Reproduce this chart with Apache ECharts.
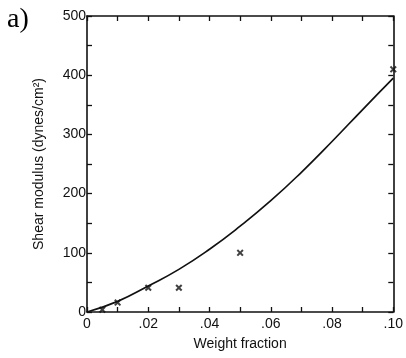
<!DOCTYPE html>
<html>
<head>
<meta charset="utf-8">
<script src="https://cdn.jsdelivr.net/npm/echarts@6/dist/echarts.min.js"></script>
<style>
  html, body { margin: 0; padding: 0; background: #fff; }
  #main { width: 406px; height: 358px; }
</style>
</head>
<body>
<div id="main"></div>
<script>
// measured points (x markers)
var pointX = [0.005, 0.01, 0.02, 0.03, 0.05, 0.10];
var pointY = [4, 16, 41, 41, 100, 410];
// fitted curve
var curveX = [0, 0.01, 0.02, 0.03, 0.04, 0.05, 0.06, 0.07, 0.08, 0.09, 0.10];
var curveY = [0, 18, 44, 72, 106, 145, 188, 236, 288, 342, 395];

var xMark = 'path://M0,2L2,0L5,3L8,0L10,2L7,5L10,8L8,10L5,7L2,10L0,8L3,5Z';
var font = 'Liberation Sans';

var chart = echarts.init(document.getElementById('main'));

function zip(a, b) {
  return a.map(function (v, i) { return [v, b[i]]; });
}

var lineStyle = { color: '#111', width: 1.6 };
var tickIn = { show: true, inside: true, length: 5, lineStyle: { color: '#111', width: 1.3 } };

var option = {
  animation: false,
  backgroundColor: '#fff',
  grid: { left: 87, right: 7, top: 16, bottom: 46 },
  graphic: [
    {
      type: 'text', left: 7, top: 6,
      style: { text: 'a)', font: '28px "Liberation Serif"', fill: '#000' }
    }
  ],
  xAxis: [
    {
      type: 'value', min: 0, max: 0.1, interval: 0.01,
      name: 'Weight fraction', nameLocation: 'middle', nameGap: 25,
      nameTextStyle: { fontFamily: font, fontSize: 14, color: '#111' },
      axisLine: { show: true, onZero: false, lineStyle: lineStyle },
      axisTick: tickIn,
      splitLine: { show: false },
      axisLabel: {
        fontFamily: font, fontSize: 14, color: '#111', margin: 5,
        formatter: function (v) {
          var k = Math.round(v * 100);
          if (k % 2 !== 0) return '';
          if (k === 0) return '0';
          return k === 10 ? '.10' : '.0' + k;
        }
      }
    },
    {
      type: 'value', position: 'top', min: 0, max: 0.1, interval: 0.01,
      axisLine: { show: true, onZero: false, lineStyle: lineStyle },
      axisTick: tickIn, axisLabel: { show: false }, splitLine: { show: false }
    }
  ],
  yAxis: [
    {
      type: 'value', min: 0, max: 500, interval: 50,
      name: 'Shear modulus (dynes/cm²)', nameLocation: 'middle', nameGap: 41,
      nameTextStyle: { fontFamily: font, fontSize: 14, color: '#111' },
      axisLine: { show: true, onZero: false, lineStyle: lineStyle },
      axisTick: tickIn,
      splitLine: { show: false },
      axisLabel: {
        fontFamily: font, fontSize: 14, color: '#111', margin: 1,
        formatter: function (v) { return v % 100 === 0 ? String(v) : ''; }
      }
    },
    {
      type: 'value', position: 'right', min: 0, max: 500, interval: 50,
      axisLine: { show: true, onZero: false, lineStyle: lineStyle },
      axisTick: tickIn, axisLabel: { show: false }, splitLine: { show: false }
    }
  ],
  series: [
    {
      type: 'line', smooth: true, showSymbol: false,
      lineStyle: { color: '#111', width: 1.7 },
      data: zip(curveX, curveY)
    },
    {
      type: 'scatter', symbol: xMark, symbolSize: 7,
      itemStyle: { color: '#111' },
      data: zip(pointX, pointY)
    }
  ]
};

chart.setOption(option);
</script>
</body>
</html>
